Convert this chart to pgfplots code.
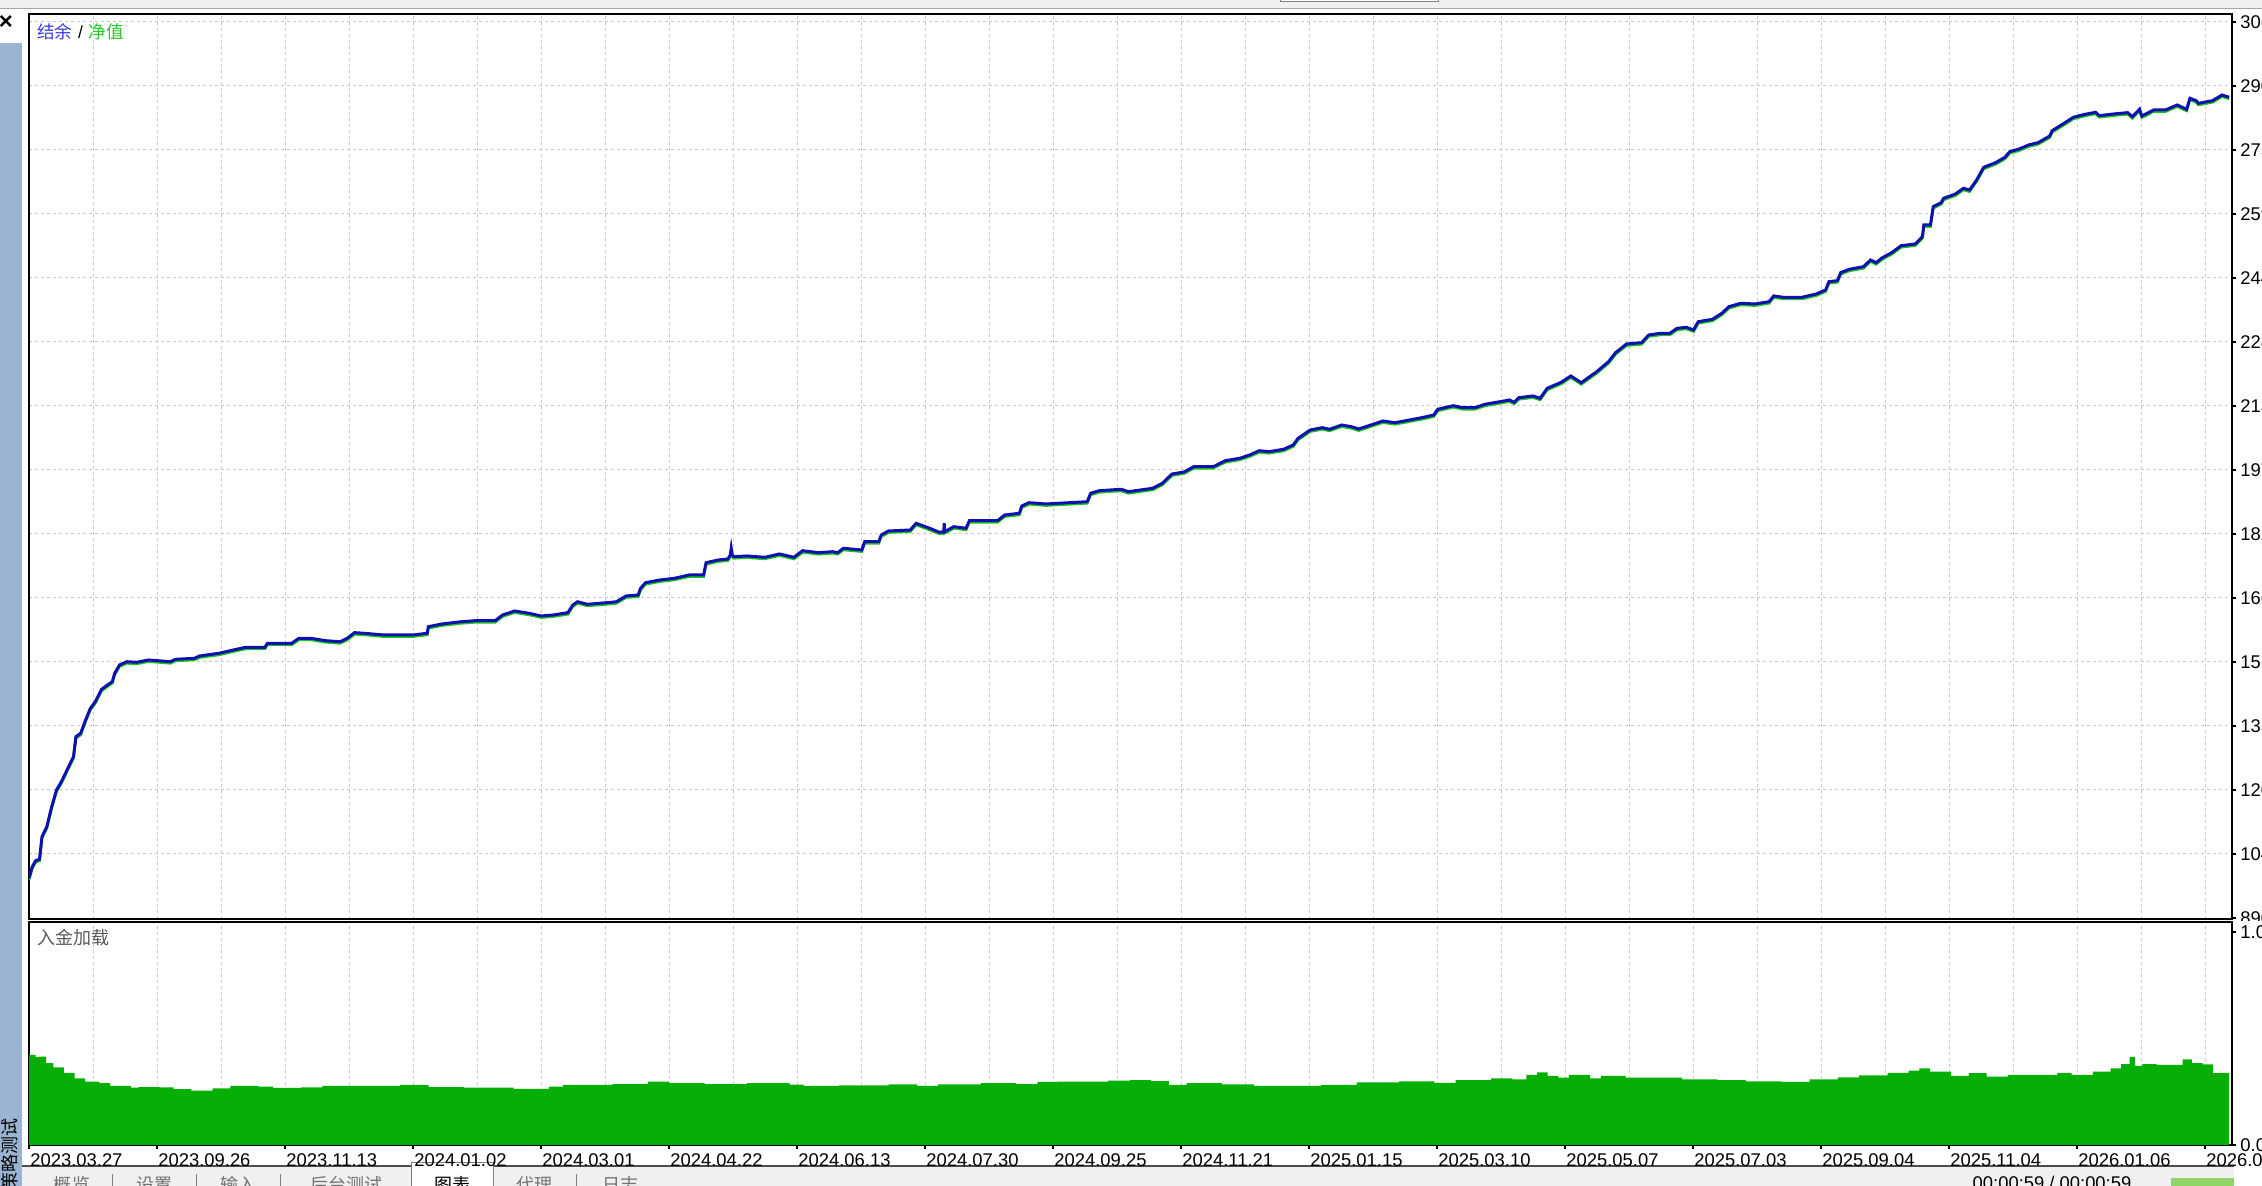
\documentclass[border=0pt]{standalone}
\usepackage{fontspec}
\setmainfont{Liberation Sans}
\newfontfamily\cjk{Noto Sans CJK SC}
\usepackage{pgfplots}
\pgfplotsset{compat=1.18}
\usepackage{pgfplotstable}

\definecolor{balblue}{RGB}{16,16,176}
\definecolor{eqgreen}{RGB}{20,200,20}
\definecolor{loadgreen}{RGB}{6,175,6}
\definecolor{gridgray}{RGB}{200,200,200}
\definecolor{sidebar}{RGB}{154,180,210}
\definecolor{panel}{RGB}{240,240,240}

% balance curve (x = bar index in px, y = account value)
\pgfplotstableread{
x y
0 9863
3.3 10144
6.7 10290
10.5 10323
13 10872
17.8 11114
22.7 11599
27.5 12004
32.4 12205
39.6 12569
44.5 12812
46.9 13297
51.7 13379
56.6 13702
61.4 13985
66.3 14145
72.6 14446
78.4 14550
83.3 14630
85.7 14834
90.5 15035
97.8 15115
107.5 15101
119.6 15157
141.4 15115
146.3 15173
165.7 15198
170.5 15254
189.9 15319
204.4 15399
216.6 15464
235.9 15464
238.4 15561
262.6 15561
269.9 15683
282 15683
296.5 15625
311.1 15600
318.3 15683
325.6 15819
335.3 15804
354.7 15763
383.8 15763
398.3 15804
399.3 15964
412.9 16030
432.3 16085
446.8 16110
466.2 16110
473.5 16248
485.6 16345
500.1 16289
512.2 16224
524.4 16248
538.9 16304
543.8 16490
548.6 16570
558.3 16507
582.5 16556
587.4 16570
597.1 16709
609.2 16733
611.6 16895
616.5 17031
631 17097
645.5 17138
660.1 17218
674.6 17218
677.1 17516
689.2 17582
698.9 17606
701.3 17703
702.2 17865
703.2 17703
704.7 17662
718.2 17679
735.8 17647
750.4 17727
764.9 17647
773.7 17807
789.2 17759
803.7 17783
808.6 17759
814.4 17865
832.8 17824
835.7 18025
849.8 18025
852.2 18188
859.5 18285
881.3 18309
887.1 18471
900.7 18350
910.4 18253
914.8 18268
915.2 18471
915.6 18268
924.9 18389
937 18350
940.4 18535
968.5 18535
975.8 18673
990.3 18714
992.8 18891
1000 18971
1017 18940
1058.2 18995
1061.6 19199
1070.3 19262
1092.1 19296
1099.4 19238
1123.6 19320
1133.3 19441
1143 19667
1155.1 19716
1164.8 19844
1184.2 19844
1196.3 19990
1210.9 20048
1220.6 20128
1230.3 20232
1240 20208
1254.6 20266
1264.2 20370
1269.1 20533
1281.2 20734
1293.3 20790
1300.6 20751
1312.7 20855
1322.4 20814
1329.7 20758
1341.8 20855
1353.9 20952
1366 20911
1380.6 20977
1392.7 21032
1404.8 21098
1408.7 21236
1424.2 21323
1433.9 21275
1446 21275
1455.7 21357
1471 21420
1480.4 21462
1485.2 21406
1489.9 21517
1504 21559
1511.1 21503
1518.2 21745
1532.3 21891
1541.8 22044
1552.2 21881
1567.7 22148
1579.5 22390
1586.6 22609
1597.5 22820
1612.6 22851
1619.7 23038
1631.5 23079
1640.9 23079
1648 23200
1657.4 23224
1664.5 23159
1669.2 23360
1683.4 23418
1692.8 23564
1699.9 23724
1711.7 23806
1725.8 23790
1740 23845
1744.7 23984
1754.2 23952
1773 23952
1787.2 24032
1796.6 24129
1799.9 24330
1808.4 24355
1811.7 24549
1820.2 24631
1834.4 24694
1841.5 24857
1847.1 24791
1853.3 24912
1862.7 25034
1872.1 25203
1886.3 25245
1893.4 25422
1894.8 25705
1901.4 25705
1904.2 26149
1912.2 26246
1914.6 26353
1926.4 26457
1934.4 26595
1940.6 26554
1947.6 26797
1954.7 27104
1966.5 27216
1976 27347
1980.7 27483
1990.1 27548
1999.5 27645
2009 27701
2020.8 27864
2023.1 27992
2035 28171
2044.4 28317
2056.2 28390
2066.6 28438
2070.3 28356
2084.5 28397
2098.6 28429
2103.4 28332
2110.5 28511
2112.8 28349
2124.6 28494
2136.4 28494
2148.2 28615
2157.6 28511
2160.9 28778
2167.1 28720
2169.4 28656
2183.6 28720
2193 28858
2200.1 28802
}\balance

% deposit load
\pgfplotstableread{
x y
0 0.423
6.6 0.412
10.2 0.415
17.2 0.384
24.3 0.365
34.9 0.339
45.6 0.313
56.2 0.297
70.3 0.290
81 0.277
102.2 0.269
109.3 0.272
130.5 0.271
144.7 0.262
162.4 0.255
183.6 0.266
201.3 0.277
229.6 0.274
243.8 0.268
272.1 0.271
293.3 0.277
321.6 0.278
350 0.277
371.2 0.282
399.5 0.272
434.9 0.269
484.5 0.263
519.9 0.274
534 0.282
583.6 0.286
619 0.297
640.2 0.291
675.6 0.286
718.1 0.290
760.5 0.283
774.7 0.277
810.1 0.280
859.7 0.285
888 0.278
909.2 0.285
951.7 0.290
987.1 0.286
1008.3 0.296
1029.6 0.297
1050.8 0.297
1079.1 0.302
1101 0.305
1122.2 0.300
1139.9 0.282
1157.6 0.290
1193 0.285
1224.9 0.277
1263.8 0.278
1292.1 0.282
1327.5 0.294
1370 0.299
1405.4 0.292
1426.6 0.305
1462 0.313
1483.3 0.308
1497.4 0.329
1508.1 0.341
1518.7 0.325
1529.3 0.316
1539.9 0.329
1561.1 0.313
1571.8 0.324
1596.5 0.316
1624.9 0.316
1653.2 0.308
1688.6 0.305
1716.9 0.299
1752.3 0.296
1780.6 0.308
1808.9 0.318
1830.1 0.327
1858.5 0.339
1879.7 0.349
1890.3 0.360
1901 0.344
1922.2 0.324
1939.9 0.337
1957.6 0.321
1978.8 0.329
2007.1 0.329
2028.4 0.339
2042.5 0.329
2063.8 0.344
2081.5 0.360
2092.1 0.380
2100.6 0.412
2106.2 0.371
2113.3 0.380
2127.5 0.376
2141.6 0.376
2153.7 0.402
2162.9 0.384
2173.5 0.379
2184.1 0.337
2191.2 0.339
2196.8 0.337
2200 0.337
}\load

\pgfplotsset{
  mt/.style={
    scale only axis,
    width=1101.5pt,
    anchor=south west,
    xmin=0, xmax=2203,
    axis line style={black, line width=1pt},
    tick style={black, line width=0.6pt},
    tick align=outside,
    xtick={0,128,...,2176},
    minor xtick={64,192,...,2112},
    minor tick length=0pt,
    xmajorgrids, xminorgrids,
    grid style={gridgray, line width=0.5pt, dash pattern=on 1.5pt off 1.5pt},
    minor grid style={gridgray, line width=0.5pt, dash pattern=on 1.5pt off 1.5pt},
    ytick pos=right,
    yticklabel pos=right,
    yticklabel style={anchor=west, inner sep=0pt, xshift=2pt, font=\fontsize{9.2}{10}\selectfont},
    xticklabel style={anchor=north west, inner sep=0pt, xshift=0.5pt, yshift=-2pt, font=\fontsize{9.2}{10}\selectfont},
  }
}

\begin{document}
\begin{tikzpicture}
% window chrome
\fill[white] (0,0) rectangle (1131pt,593pt);
\fill[panel] (0,588.5pt) rectangle (1131pt,593pt);
\draw[gray!70, line width=0.5pt] (0,588.5pt) -- (1131pt,588.5pt);
\draw[gray, fill=white, line width=0.5pt] (640pt,592pt) rectangle (719pt,596pt);
\fill[sidebar] (0,0) rectangle (11pt,571.5pt);
\node[font=\bfseries\fontsize{12}{12}\selectfont, inner sep=0pt] at (3pt,581.5pt) {×};
\node[rotate=90, anchor=east, inner sep=0pt, font=\cjk\fontsize{9}{9}\selectfont] at (5pt,34pt) {策略测试};
\fill[panel] (11pt,-2pt) rectangle (1131pt,10pt);
\draw[black!70, line width=0.8pt] (11pt,10pt) -- (1131pt,10pt);
\draw[gray, fill=white, line width=0.5pt] (205.5pt,-2pt) -- (205.5pt,11.5pt) -- (246.5pt,11.5pt) -- (246.5pt,-2pt);
\foreach \sx in {56,98,140} \draw[gray, line width=0.5pt] (\sx pt,0) -- (\sx pt,6pt);
\draw[gray, line width=0.5pt] (288pt,0) -- (288pt,6pt);
\begin{scope}[font=\cjk\fontsize{9}{9}\selectfont, text=black!55, inner sep=0pt]
\node[anchor=north] at (36pt,5pt) {概览};
\node[anchor=north] at (77pt,5pt) {设置};
\node[anchor=north] at (119pt,5pt) {输入};
\node[anchor=north] at (173pt,5pt) {后台测试};
\node[anchor=north, text=black] at (226pt,5pt) {图表};
\node[anchor=north] at (267pt,5pt) {代理};
\node[anchor=north] at (310pt,5pt) {日志};
\end{scope}
\node[anchor=north, inner sep=0pt, font=\fontsize{9.2}{10}\selectfont] at (1026pt,5pt) {00:00:59 / 00:00:59};
\fill[green!45!olive!60!white] (1085.5pt,-2pt) rectangle (1133pt,4pt);

% main panel: balance / equity
\begin{axis}[mt,
  at={(14.5pt,133.5pt)},
  height=452.5pt,
  ymin=8876, ymax=30822,
  ytick={8900,10452,12004,13556,15108,16660,18212,19764,21316,22868,24420,25972,27524,29076,30628},
  yticklabels={8900,10452,12004,13556,15108,16660,18212,19764,21316,22868,24420,25972,27524,29076,30628},
  xticklabels={},
  xtick style={draw=none},
  major tick length=2pt,
  ymajorgrids,
]
\addplot[eqgreen, line width=1.3pt, yshift=-0.8pt] table {\balance};
\addplot[balblue, line width=1.5pt] table {\balance};
\end{axis}
\fill[white] (1117pt,0) rectangle (1131pt,132.5pt);

% lower panel: deposit load
\begin{axis}[mt,
  at={(14.5pt,20.5pt)},
  height=111.5pt,
  ymin=0, ymax=1.047,
  ytick={0,1},
  yticklabels={0.00,1.00},
  major tick length=2pt,
  xtick pos=bottom,
  xticklabels={2023.03.27,2023.09.26,2023.11.13,2024.01.02,2024.03.01,2024.04.22,2024.06.13,2024.07.30,2024.09.25,2024.11.21,2025.01.15,2025.03.10,2025.05.07,2025.07.03,2025.09.04,2025.11.04,2026.01.06,2026.03.02},
]
\addplot[fill=loadgreen, draw=none, const plot] table {\load} \closedcycle;
\end{axis}

\node[anchor=west, inner sep=0pt] at (18.5pt,577pt)
  {{\cjk\fontsize{8.8}{9}\selectfont\color[RGB]{60,60,225}结余} {\fontsize{8.8}{9}\selectfont /} {\cjk\fontsize{8.8}{9}\selectfont\color[RGB]{40,200,40}净值}};
\node[anchor=west, inner sep=0pt, text=black!65, font=\cjk\fontsize{9}{9}\selectfont] at (18.5pt,124pt) {入金加载};

\pgfresetboundingbox
\useasboundingbox (0,0) rectangle (1131pt,593pt);
\end{tikzpicture}
\end{document}
